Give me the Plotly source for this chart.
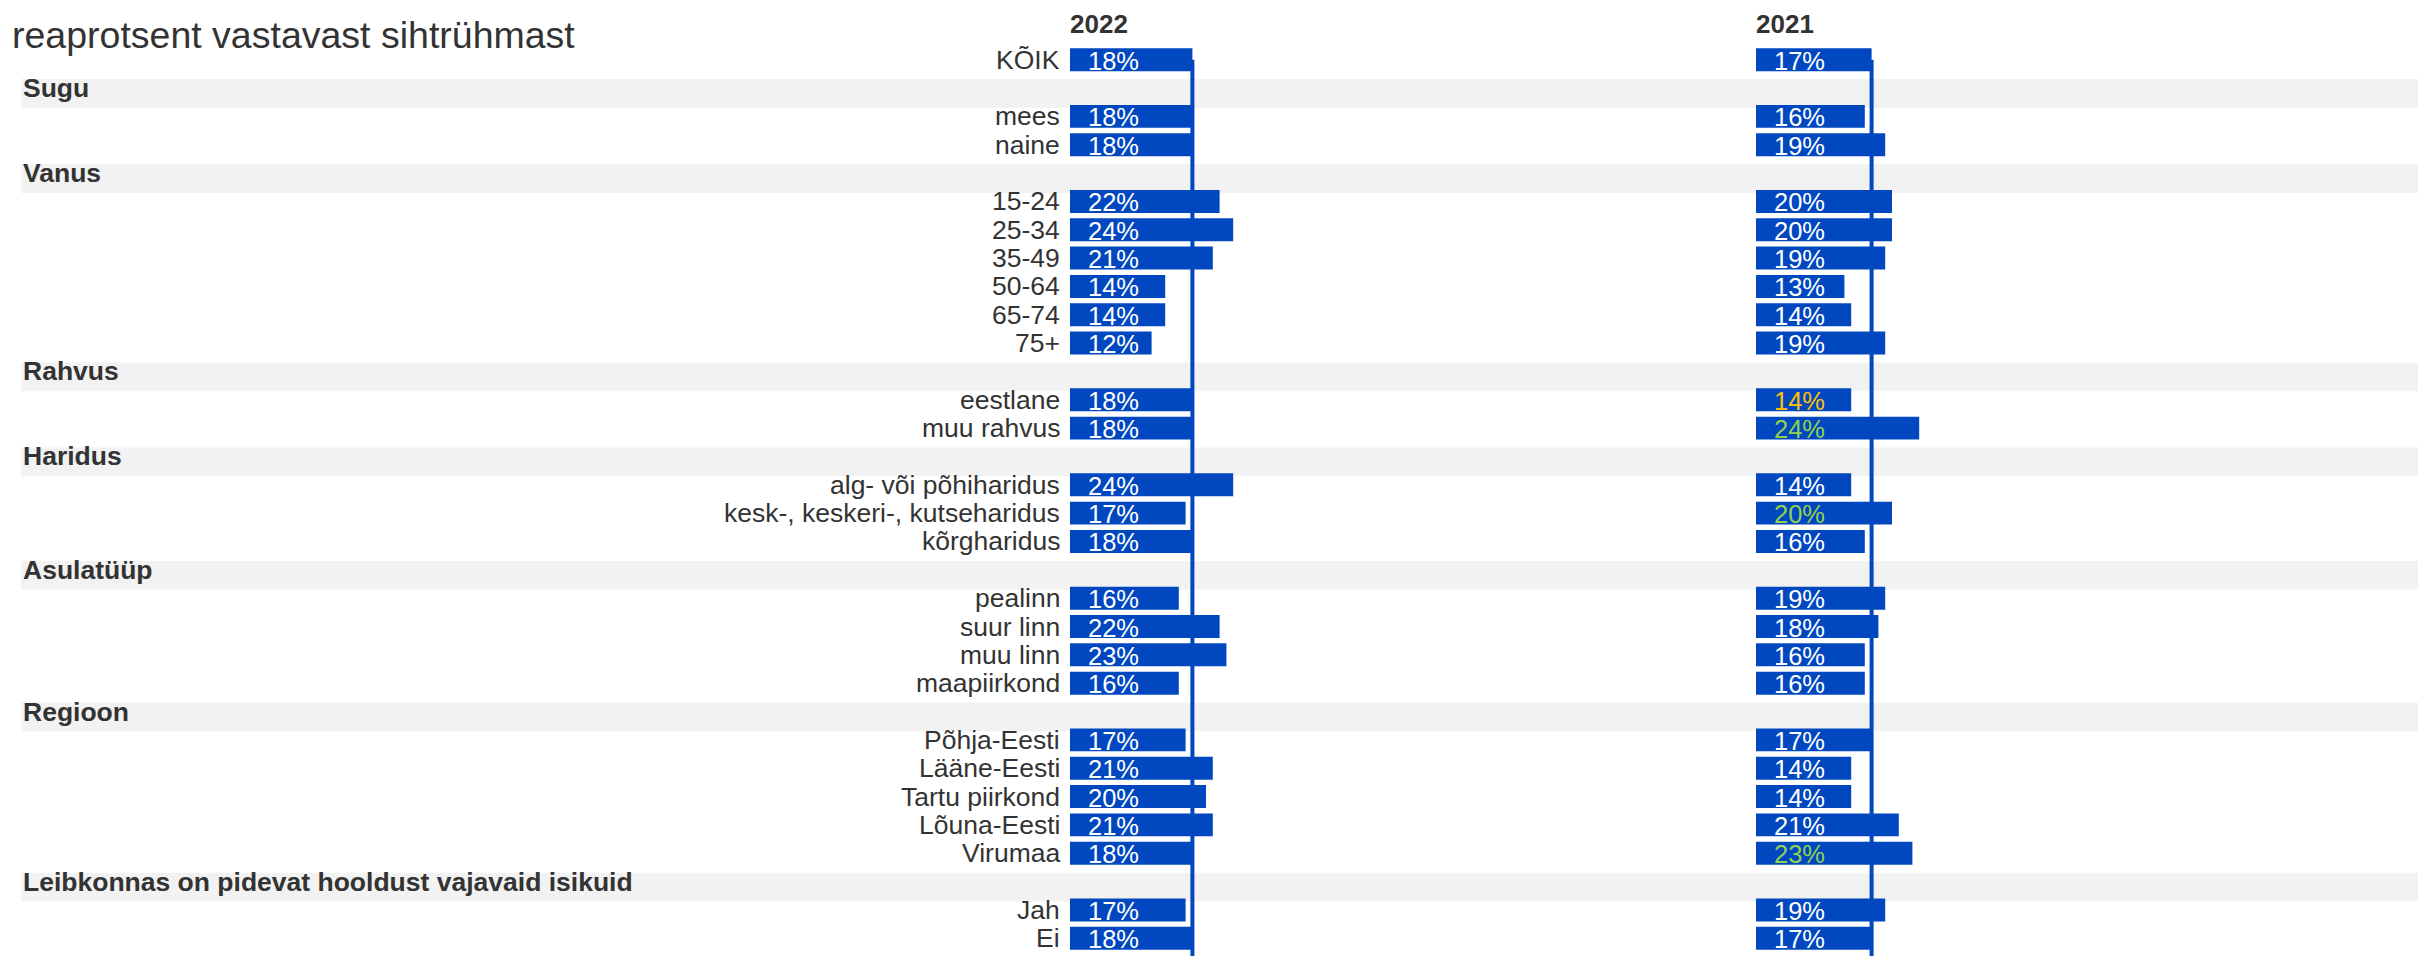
import plotly.graph_objects as go

# Share of each target group (row percentages), survey years 2022 and 2021
categories = [
    "KÕIK", "mees", "naine",
    "15-24", "25-34", "35-49", "50-64", "65-74", "75+",
    "eestlane", "muu rahvus",
    "alg- või põhiharidus", "kesk-, keskeri-, kutseharidus", "kõrgharidus",
    "pealinn", "suur linn", "muu linn", "maapiirkond",
    "Põhja-Eesti", "Lääne-Eesti", "Tartu piirkond", "Lõuna-Eesti", "Virumaa",
    "Jah", "Ei",
]
category_groups = (
    [""] + ["Sugu"] * 2 + ["Vanus"] * 6 + ["Rahvus"] * 2 + ["Haridus"] * 3
    + ["Asulatüüp"] * 4 + ["Regioon"] * 5
    + ["Leibkonnas on pidevat hooldust vajavaid isikuid"] * 2
)
values_2022 = [18, 18, 18, 22, 24, 21, 14, 14, 12, 18, 18, 24, 17, 18,
               16, 22, 23, 16, 17, 21, 20, 21, 18, 17, 18]
values_2021 = [17, 16, 19, 20, 20, 19, 13, 14, 19, 14, 24, 14, 20, 16,
               19, 18, 16, 16, 17, 14, 14, 21, 23, 19, 17]
# Statistically notable difference of the 2021 figure: "lower", "higher" or ""
diff_2021 = ["", "", "", "", "", "", "", "", "", "lower", "higher", "", "higher", "",
             "", "", "", "", "", "", "", "", "higher", "", ""]
years = ["2022", "2021"]
title_text = "reaprotsent vastavast sihtrühmast"

# ---- styling ----
W, H = 2418, 956
BLUE = "#0047C0"
BAND = "#F2F2F2"
TXT = "#333333"
DIFF_COLORS = {"lower": "#FFC000", "higher": "#92D050", "": "white"}
FONT = "Liberation Sans, Arial, sans-serif"
PX_PER_UNIT = 6.8          # horizontal pixels per percentage point
ORIGIN_2022 = 1070         # left edge of the 2022 bars (px)
ORIGIN_2021 = 1756         # left edge of the 2021 bars (px)
ROW_PX = 28.34             # vertical pitch of a row (px)
FIRST_ROW_PX = 59.7        # centre of the first row (px)

# ---- row layout: a header row before each new group ----
rows_y, header_rows = [], []
r, prev = 0, None
for g in category_groups:
    if g and g != prev:
        header_rows.append((r, g))
        r += 1
    rows_y.append(r)
    r += 1
    prev = g
n_rows = r

y_top = -FIRST_ROW_PX / ROW_PX
y_bot = (H - FIRST_ROW_PX) / ROW_PX


def x_range(origin):
    return [-origin / PX_PER_UNIT, (W - origin) / PX_PER_UNIT]


fig = go.Figure()
fig.add_trace(go.Bar(
    x=values_2022, y=rows_y, orientation="h", width=0.81,
    marker=dict(color=BLUE, line=dict(width=0)), xaxis="x", yaxis="y",
    hoverinfo="skip", showlegend=False,
))
fig.add_trace(go.Bar(
    x=values_2021, y=rows_y, orientation="h", width=0.81,
    marker=dict(color=BLUE, line=dict(width=0)), xaxis="x2", yaxis="y",
    hoverinfo="skip", showlegend=False,
))

shapes = []
# grey bands behind the group headers
for hr, _ in header_rows:
    shapes.append(dict(type="rect", xref="paper", yref="y",
                       x0=21 / W, x1=1, y0=hr - 0.315, y1=hr + 0.70,
                       fillcolor=BAND, line=dict(width=0), layer="below"))
# reference lines at the overall (KÕIK) value
for xref, vals in (("x", values_2022), ("x2", values_2021)):
    shapes.append(dict(type="line", xref=xref, yref="y",
                       x0=vals[0], x1=vals[0], y0=rows_y[0], y1=y_bot,
                       line=dict(color=BLUE, width=4), layer="below"))

ann = []
ann.append(dict(text=title_text, xref="paper", yref="paper",
                x=10 / W, y=1 - 35 / H, xanchor="left", yanchor="middle",
                showarrow=False, font=dict(family=FONT, size=37.5, color=TXT)))
for xref, yr in (("x", years[0]), ("x2", years[1])):
    ann.append(dict(text=f"<b>{yr}</b>", xref=xref, yref="paper",
                    x=0, xshift=-2, y=1 - 24 / H, xanchor="left", yanchor="middle",
                    showarrow=False, font=dict(family=FONT, size=26, color=TXT)))
for hr, g in header_rows:
    ann.append(dict(text=f"<b>{g}</b>", xref="paper", yref="y",
                    x=21 / W, y=hr, xanchor="left", yanchor="middle",
                    showarrow=False, font=dict(family=FONT, size=26.5, color=TXT)))
for cat, ry in zip(categories, rows_y):
    ann.append(dict(text=cat, xref="x", yref="y", x=0, xshift=-8, y=ry,
                    xanchor="right", yanchor="middle", showarrow=False,
                    font=dict(family=FONT, size=26.5, color=TXT)))
for v, ry in zip(values_2022, rows_y):
    ann.append(dict(text=f"{v}%", xref="x", yref="y", x=0, xshift=16, y=ry,
                    yshift=-1, xanchor="left", yanchor="middle", showarrow=False,
                    font=dict(family=FONT, size=25.5, color="white")))
for v, d, ry in zip(values_2021, diff_2021, rows_y):
    ann.append(dict(text=f"{v}%", xref="x2", yref="y", x=0, xshift=16, y=ry,
                    yshift=-1, xanchor="left", yanchor="middle", showarrow=False,
                    font=dict(family=FONT, size=25.5, color=DIFF_COLORS[d])))

hidden = dict(showgrid=False, zeroline=False, showticklabels=False,
              showline=False, ticks="", fixedrange=True)
fig.update_layout(
    width=W, height=H,
    margin=dict(l=0, r=0, t=0, b=0, pad=0),
    paper_bgcolor="white", plot_bgcolor="white",
    barmode="overlay",
    xaxis=dict(range=x_range(ORIGIN_2022), domain=[0, 1], **hidden),
    xaxis2=dict(range=x_range(ORIGIN_2021), domain=[0, 1], overlaying="x",
                anchor="y", **hidden),
    yaxis=dict(range=[y_bot, y_top], **hidden),
    shapes=shapes,
    annotations=ann,
    font=dict(family=FONT, color=TXT),
)

fig.write_html("out.html")
